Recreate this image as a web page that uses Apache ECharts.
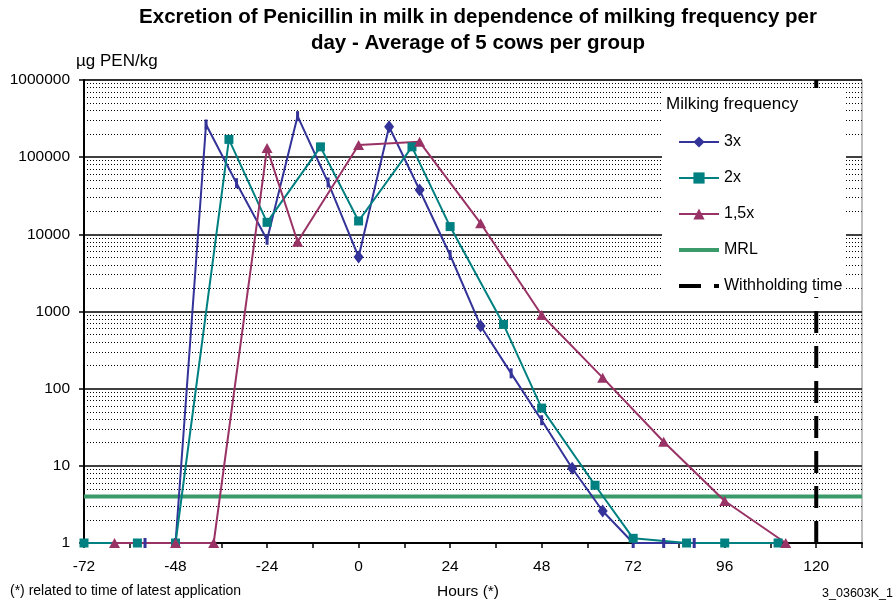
<!DOCTYPE html>
<html><head><meta charset="utf-8">
<script src="https://cdn.jsdelivr.net/npm/echarts@6/dist/echarts.min.js"></script>
<style>html,body{margin:0;padding:0;background:#fff}#c{width:895px;height:605px}</style>
</head><body><div id="c"></div>
<script>
// ---- text ----
const titleLine1 = 'Excretion of Penicillin in milk in dependence of milking frequency per';
const titleLine2 = 'day - Average of 5 cows per group';
const yAxisName = 'µg PEN/kg';
const xAxisName = 'Hours (*)';
const footnote = '(*) related to time of latest application';
const chartCode = '3_03603K_1';
const legendTitle = 'Milking frequency';
const seriesNames = ['3x', '2x', '1,5x', 'MRL', 'Withholding time'];

// ---- data ----
const hours3x  = [-56, -48, -40, -32, -24, -16, -8, 0, 8, 16, 24, 32, 40, 48, 56, 64, 72, 80, 88];
const values3x = [1, 1, 265000, 46000, 8500, 340000, 47000, 5100, 248000, 37500, 5400, 650, 158, 39, 9.3, 2.6, 1, 1, 1];
const hours2x  = [-72, -58, -48, -34, -24, -10, 0, 14, 24, 38, 48, 62, 72, 86, 96, 110];
const values2x = [1, 1, 1, 170000, 14300, 136000, 14900, 136000, 12600, 680, 56, 5.6, 1.15, 1, 1, 1];
const hours15x  = [-64, -48, -38, -24, -16, 0, 16, 32, 48, 64, 80, 96, 112];
const values15x = [1, 1, 1, 131000, 8000, 144000, 158000, 13900, 900, 139, 20.5, 3.5, 1];
const mrlValue = 4;
const withholdingHours = 120;
const xTickLabels = [-72, -48, -24, 0, 24, 48, 72, 96, 120];
const yTickLabels = [1, 10, 100, 1000, 10000, 100000, 1000000];

// ---- styling (not data) ----
const FONT = '"Liberation Sans", Arial, sans-serif';
const C3 = '#333399', C2 = '#008080', C15 = '#993366', CMRL = '#3a9a6a';
const barMarkerHours3x = [-56, -48, -40, -32, -24, -16, -8, 24, 40, 48, 72, 80, 88];
const xMin = -72, xMax = 132, xStep = 12;

const data3x = hours3x.map((h, i) => barMarkerHours3x.includes(h)
  ? { value: [h, values3x[i]], symbol: 'rect', symbolSize: [3, 10] }
  : [h, values3x[i]]);
const data2x = hours2x.map((h, i) => [h, values2x[i]]);
const data15x = hours15x.map((h, i) => [h, values15x[i]]);

// minor log gridlines 2..9 in each decade
const minorLines = [];
for (let d = 0; d < yTickLabels.length - 1; d++) {
  for (let m = 2; m <= 9; m++) minorLines.push({ yAxis: m * yTickLabels[d] });
}

const noSymbol = { color: 'rgba(0,0,0,0)', borderColor: 'rgba(0,0,0,0)', borderWidth: 0, opacity: 0 };

const chart = echarts.init(document.getElementById('c'), null, { renderer: 'canvas' });
chart.setOption({
  animation: false,
  backgroundColor: '#fff',
  grid: { left: 84, right: 33, top: 80, bottom: 62, show: true, borderColor: '#808080', borderWidth: 1, backgroundColor: 'transparent' },
  xAxis: {
    type: 'value', min: xMin, max: xMax, interval: xStep,
    axisLine: { show: true, onZero: false, lineStyle: { color: '#000', width: 2 } },
    axisTick: { show: true, inside: false, length: 5, lineStyle: { color: '#000', width: 1.5 } },
    axisLabel: {
      margin: 16, color: '#000', fontFamily: FONT, fontSize: 15.5,
      formatter: v => (xTickLabels.includes(v) ? String(v) : ''),
      showMaxLabel: true, showMinLabel: true
    },
    splitLine: { show: false }
  },
  yAxis: {
    type: 'log', logBase: 10, min: yTickLabels[0], max: yTickLabels[yTickLabels.length - 1], splitNumber: 6,
    axisLine: { show: true, onZero: false, lineStyle: { color: '#000', width: 2 } },
    axisTick: { show: true, inside: false, length: 5, lineStyle: { color: '#000', width: 1.5 } },
    axisLabel: { margin: 14, color: '#000', fontFamily: FONT, fontSize: 15.5, formatter: v => String(Math.round(v)) },
    splitLine: { show: true, lineStyle: { color: '#000', width: 1.5 } }
  },
  legend: {
    orient: 'vertical', left: 677, top: 134, padding: 0, itemWidth: 40, itemHeight: 14, itemGap: 20,
    selectedMode: false, z: 6,
    textStyle: { fontFamily: FONT, fontSize: 16, color: '#000' },
    data: [
      { name: seriesNames[0] },
      { name: seriesNames[1] },
      { name: seriesNames[2] },
      { name: seriesNames[3], itemStyle: noSymbol, lineStyle: { width: 4, color: CMRL } },
      { name: seriesNames[4], itemStyle: noSymbol, lineStyle: { width: 4, color: '#000', type: [22, 13] } }
    ]
  },
  graphic: [
    { type: 'rect', z: 4, shape: { x: 662, y: 89, width: 184, height: 208 }, style: { fill: '#fff' } },
    { type: 'text', z: 7, x: 666, y: 104, style: { text: legendTitle, font: '17px ' + FONT, fill: '#000', textAlign: 'left', textVerticalAlign: 'middle' } },
    { type: 'text', z: 7, x: 478, y: 17, style: { text: titleLine1, font: 'bold 20.5px ' + FONT, fill: '#000', textAlign: 'center', textVerticalAlign: 'middle' } },
    { type: 'text', z: 7, x: 478, y: 43, style: { text: titleLine2, font: 'bold 20.5px ' + FONT, fill: '#000', textAlign: 'center', textVerticalAlign: 'middle' } },
    { type: 'text', z: 7, x: 76, y: 61, style: { text: yAxisName, font: '17px ' + FONT, fill: '#000', textAlign: 'left', textVerticalAlign: 'middle' } },
    { type: 'text', z: 7, x: 468, y: 592, style: { text: xAxisName, font: '15.5px ' + FONT, fill: '#000', textAlign: 'center', textVerticalAlign: 'middle' } },
    { type: 'text', z: 7, x: 10, y: 591, style: { text: footnote, font: '14px ' + FONT, fill: '#000', textAlign: 'left', textVerticalAlign: 'middle' } },
    { type: 'text', z: 7, x: 893, y: 594, style: { text: chartCode, font: '12.5px ' + FONT, fill: '#000', textAlign: 'right', textVerticalAlign: 'middle' } }
  ],
  series: [
    {
      name: '_minor', type: 'line', data: [], z: 1, silent: true,
      markLine: {
        z: 1, silent: true, symbol: ['none', 'none'], label: { show: false },
        lineStyle: { color: '#000', width: 1, type: [1, 2] },
        emphasis: { disabled: true },
        data: minorLines
      }
    },
    {
      name: seriesNames[3], type: 'line', z: 2, symbol: 'none',
      data: [[xMin, mrlValue], [xMax, mrlValue]],
      lineStyle: { color: CMRL, width: 4 }, itemStyle: { color: CMRL },
      emphasis: { disabled: true }
    },
    {
      name: seriesNames[4], type: 'line', z: 2, symbol: 'none',
      data: [[withholdingHours, yTickLabels[0]], [withholdingHours, yTickLabels[yTickLabels.length - 1]]],
      lineStyle: { color: '#000', width: 4, type: [22, 13] }, itemStyle: { color: '#000' },
      emphasis: { disabled: true }
    },
    {
      name: seriesNames[0], type: 'line', z: 3, data: data3x,
      symbol: 'diamond', symbolSize: [10, 13], showSymbol: true, showAllSymbol: true,
      lineStyle: { color: C3, width: 2 }, itemStyle: { color: C3 },
      emphasis: { disabled: true }
    },
    {
      name: seriesNames[1], type: 'line', z: 3, data: data2x,
      symbol: 'rect', symbolSize: 9, showSymbol: true, showAllSymbol: true,
      lineStyle: { color: C2, width: 2 }, itemStyle: { color: C2 },
      emphasis: { disabled: true }
    },
    {
      name: seriesNames[2], type: 'line', z: 3, data: data15x,
      symbol: 'triangle', symbolSize: [11, 10], showSymbol: true, showAllSymbol: true,
      lineStyle: { color: C15, width: 2 }, itemStyle: { color: C15 },
      emphasis: { disabled: true }
    }
  ]
});
</script>
</body></html>
